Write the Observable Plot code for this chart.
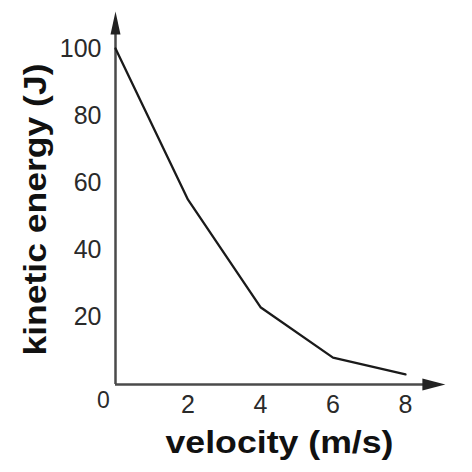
<!DOCTYPE html>
<html>
<head>
<meta charset="utf-8">
<script src="https://cdn.jsdelivr.net/npm/d3@7"></script>
<script src="https://cdn.jsdelivr.net/npm/@observablehq/plot@0.6"></script>
<style>
  html, body { margin: 0; padding: 0; background: #fff; }
  #chart svg { display: block; }
</style>
</head>
<body>
<div id="chart"></div>
<script>
// Data
const velocity = [0, 2, 4, 6, 8];
const energy = [100, 55, 23, 8, 3];
const xTicks = [2, 4, 6, 8];
const yTicks = [20, 40, 60, 80, 100];
const originLabel = ["0"];
const xTitle = "velocity (m/s)";
const yTitle = "kinetic energy (J)";
const xAxisEnd = 9.1;
const yAxisEnd = 111;

const points = velocity.map((v, i) => ({v, e: energy[i]}));

const arrowUp = {draw(ctx) { ctx.moveTo(0, 0); ctx.lineTo(-5, 23); ctx.lineTo(5, 23); ctx.closePath(); }};
const arrowRight = {draw(ctx) { ctx.moveTo(0, 0); ctx.lineTo(-23, -6); ctx.lineTo(-23, 6); ctx.closePath(); }};

const font = "Liberation Sans, Arial, Helvetica, sans-serif";
const axisColor = "#4a4a4a";
const textColor = "#2a2a2a";

const chart = Plot.plot({
  width: 472,
  height: 472,
  marginLeft: 115,
  marginRight: 67,
  marginTop: 48,
  marginBottom: 88,
  x: {domain: [0, 8], axis: null},
  y: {domain: [0, 100], axis: null},
  style: {fontFamily: font, background: "#fff"},
  marks: [
    Plot.ruleX([0], {y1: 0, y2: yAxisEnd - 4, stroke: axisColor, strokeWidth: 2.5, clip: false}),
    Plot.ruleY([0], {x1: 0, x2: xAxisEnd - 0.3, stroke: axisColor, strokeWidth: 2.5, clip: false}),
    Plot.dot([0], {x: 0, y: yAxisEnd, symbol: arrowUp, fill: "#222", stroke: "none", r: 5}),
    Plot.dot([0], {x: xAxisEnd, y: 0, symbol: arrowRight, fill: "#222", stroke: "none", r: 5}),
    Plot.line(points, {x: "v", y: "e", stroke: "#1a1a1a", strokeWidth: 2.3}),
    Plot.text(yTicks, {x: 0, y: d => d, text: d => String(d), textAnchor: "end", dx: -14, fontSize: 25, fill: textColor}),
    Plot.text(xTicks, {x: d => d, y: 0, text: d => String(d), dy: 20, fontSize: 25, fill: textColor}),
    Plot.text(originLabel, {x: 0, y: 0, text: d => d, dx: -12, dy: 16, fontSize: 23, fill: textColor}),
    Plot.text([yTitle], {frameAnchor: "left", textAnchor: "middle", text: d => d, rotate: -90, dx: -79, dy: -7, fontSize: 31, fontWeight: "bold", fill: "#111"}),
    Plot.text([xTitle], {frameAnchor: "bottom", textAnchor: "middle", text: d => d, dx: 19, dy: 68, fontSize: 31, fontWeight: "bold", fill: "#111"})
  ]
});
document.getElementById("chart").appendChild(chart);

// Widen the titles to match the reference's wider lettering
d3.select(chart).selectAll("text").each(function() {
  const t = this.textContent;
  if (t === xTitle) d3.select(this).attr("textLength", 228).attr("lengthAdjust", "spacingAndGlyphs");
  if (t === yTitle) d3.select(this).attr("textLength", 292).attr("lengthAdjust", "spacingAndGlyphs");
});
</script>
</body>
</html>
